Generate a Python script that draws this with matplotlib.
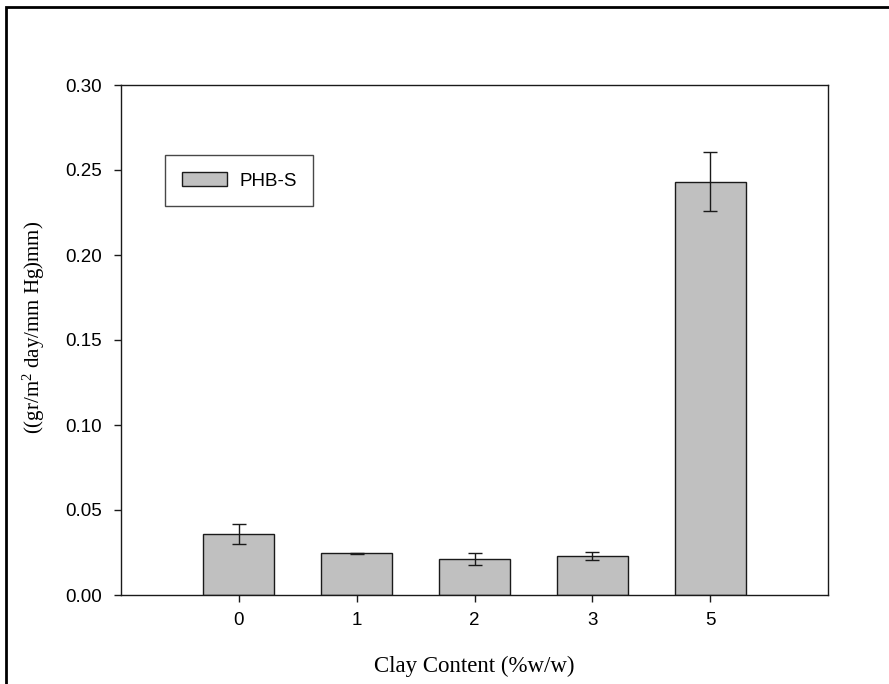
import matplotlib
matplotlib.use("Agg")
import matplotlib.pyplot as plt
from matplotlib.patches import Rectangle

# Water vapour permeability of PHB-S films vs. clay loading
categories = ["0", "1", "2", "3", "5"]
permeability = [0.036, 0.0245, 0.021, 0.0229, 0.243]
perm_err = [0.006, 0.0004, 0.0035, 0.0023, 0.0173]
yticks = [0.00, 0.05, 0.10, 0.15, 0.20, 0.25, 0.30]

sans = "Liberation Sans"
serif = "Liberation Serif"
plt.rcParams["mathtext.fontset"] = "custom"
plt.rcParams["mathtext.rm"] = serif
plt.rcParams["mathtext.it"] = serif + ":italic"

W, H, DPI = 889, 684, 100
fig = plt.figure(figsize=(W / DPI, H / DPI), dpi=DPI)

ax = fig.add_axes([121 / W, 1 - 595 / H, (828 - 121) / W, (595 - 85) / H])
x = list(range(len(categories)))
ax.bar(x, permeability, width=0.6, color="#c0c0c0", edgecolor="#1a1a1a",
       linewidth=1.0, label="PHB-S", zorder=2)
ax.errorbar(x, permeability, yerr=perm_err, fmt="none", ecolor="#1a1a1a",
            elinewidth=1.0, capsize=5, capthick=1.0, zorder=3)

ax.set_xlim(-1, 5)
ax.set_ylim(0, 0.30)
ax.set_xticks(x)
ax.set_xticklabels(categories)
ax.set_yticks(yticks)
ax.set_yticklabels([f"{v:.2f}" for v in yticks])
ax.tick_params(direction="out", length=5, width=1, colors="#1a1a1a",
               labelcolor="black", labelsize=13.5)
ax.tick_params(axis="y", pad=9)
ax.tick_params(axis="x", pad=7)
for lbl in ax.get_xticklabels() + ax.get_yticklabels():
    lbl.set_fontfamily(sans)
for s in ax.spines.values():
    s.set_linewidth(1.0)
    s.set_color("#1a1a1a")

ax.set_xlabel("Clay Content (%w/w)", fontfamily=serif, fontsize=16.5)
ax.xaxis.set_label_coords(0.5, -(666 - 595) / (595 - 85))
ax.xaxis.label.set_verticalalignment("center")
ax.set_ylabel(r"((gr/m$^{2}$ day/mm Hg)mm)", fontfamily=serif, fontsize=15)
ax.yaxis.set_label_coords(-(121 - 34) / (828 - 121), (595 - 327) / (595 - 85))
ax.yaxis.label.set_verticalalignment("center")

leg = ax.legend(loc="upper left",
                bbox_to_anchor=((165 - 121) / (828 - 121),
                                (595 - 155) / (595 - 85)),
                borderaxespad=0, frameon=True, fancybox=False, shadow=False,
                prop={"family": sans, "size": 13.5},
                handlelength=2.4, handleheight=0.8, handletextpad=0.65,
                borderpad=0.9)
leg.get_frame().set_edgecolor("#1a1a1a")
leg.get_frame().set_linewidth(1.0)

# outer frame (only top and left edges fall inside the canvas)
fig.patches.append(Rectangle((6 / W, -0.1), 1.2, 1 - 6.5 / H + 0.1,
                             transform=fig.transFigure, fill=False,
                             edgecolor="black", linewidth=2.0))

fig.savefig("out.png", dpi=DPI)
